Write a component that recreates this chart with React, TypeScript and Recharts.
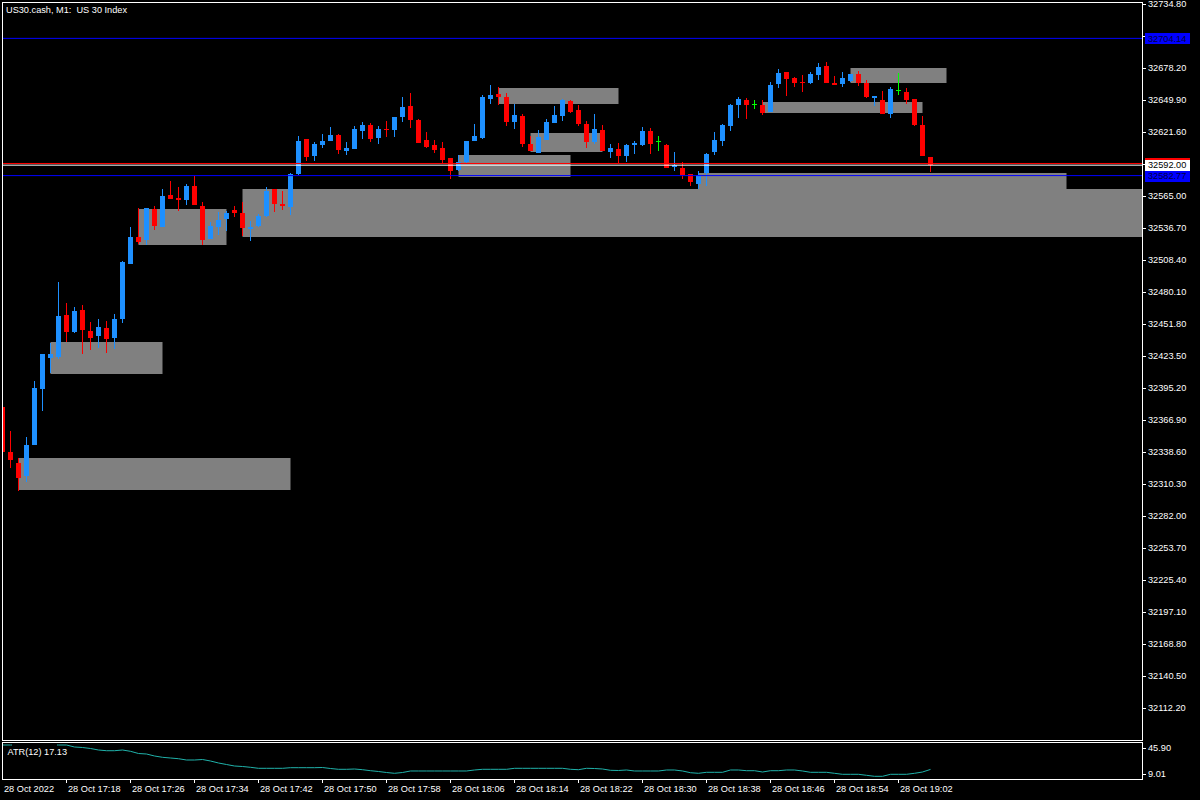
import React from 'react'
import {
  ComposedChart,
  Bar,
  XAxis,
  YAxis,
  ReferenceArea,
  ReferenceLine,
  LineChart,
  Line,
} from 'recharts'

const FONT = '"Liberation Sans", Arial, sans-serif'
const FG = '#ffffff'
const BULL = '#1e90ff'
const BEAR = '#ff0000'
const DOJI = '#00ff00'
const ZONE = '#808080'
const LEVEL = '#0000ff'
const ATR_COLOR = '#20b2aa'
const FS = 9.2

// US30.cash M1, bar 0 = 28 Oct 2022 17:10, last bar = 19:06
const opens = [
  32378.1, 32338.3, 32328.6, 32317.1, 32344.5, 32394.1, 32421.5, 32422.4, 32459.5, 32444.5,
  32463.9, 32445.3, 32440.9, 32448.0, 32439.2, 32456.0, 32504.6, 32528.5, 32525.8, 32553.2,
  32537.3, 32565.6, 32563.0, 32561.2, 32573.6, 32555.9, 32526.7, 32537.3, 32544.4, 32552.4,
  32549.7, 32535.5, 32538.2, 32547.0, 32570.9, 32557.7, 32555.0, 32584.2, 32615.1, 32600.1,
  32609.8, 32613.4, 32618.7, 32604.5, 32606.3, 32622.2, 32627.5, 32616.0, 32624.0, 32623.1,
  32634.6, 32644.3, 32631.9, 32614.3, 32609.8, 32607.2, 32598.3, 32587.7, 32594.8, 32613.4,
  32616.0, 32650.5, 32654.9, 32652.3, 32630.2, 32635.5, 32610.7, 32602.8, 32614.3, 32629.3,
  32635.5, 32648.8, 32640.8, 32628.4, 32612.5, 32623.1, 32603.6, 32606.3, 32600.1, 32609.8,
  32609.8, 32622.2, 32613.4, 32609.8, 32590.4, 32589.5, 32584.2, 32575.3, 32585.1, 32603.6,
  32613.4, 32626.6, 32645.2, 32649.6, 32646.1, 32645.2, 32639.0, 32663.8, 32674.4, 32669.1,
  32665.6, 32664.7, 32671.7, 32679.7, 32664.7, 32663.8, 32666.4, 32672.6, 32664.7, 32651.4,
  32649.6, 32637.3, 32658.5, 32656.7, 32650.5, 32627.5, 32599.2,
]
const highs = [
  32379.9, 32356.9, 32333.0, 32351.6, 32401.1, 32425.0, 32434.7, 32488.7, 32470.1, 32466.6,
  32468.3, 32453.3, 32456.0, 32454.2, 32460.4, 32507.3, 32537.3, 32554.1, 32554.1, 32555.9,
  32570.9, 32578.0, 32572.7, 32575.3, 32582.4, 32559.4, 32541.7, 32550.6, 32551.5, 32555.9,
  32559.4, 32542.6, 32548.8, 32572.7, 32570.9, 32569.2, 32585.1, 32617.8, 32615.1, 32612.5,
  32619.6, 32625.8, 32619.6, 32612.5, 32626.6, 32630.2, 32629.3, 32626.6, 32631.1, 32634.6,
  32652.3, 32655.8, 32632.8, 32621.3, 32614.3, 32612.5, 32598.3, 32601.0, 32613.4, 32628.4,
  32654.1, 32662.9, 32661.1, 32655.8, 32646.1, 32637.3, 32617.8, 32623.1, 32632.8, 32644.3,
  32650.5, 32649.6, 32645.2, 32631.1, 32637.3, 32627.5, 32610.7, 32611.6, 32610.7, 32613.4,
  32625.8, 32624.9, 32617.8, 32610.7, 32603.6, 32594.8, 32584.2, 32586.8, 32602.8, 32621.3,
  32628.4, 32646.1, 32652.3, 32651.4, 32649.6, 32649.6, 32665.6, 32677.1, 32674.4, 32670.0,
  32671.7, 32674.4, 32682.4, 32683.2, 32670.9, 32674.4, 32672.6, 32675.3, 32667.3, 32653.2,
  32657.6, 32661.1, 32673.5, 32660.2, 32650.5, 32635.5, 32599.2,
]
const lows = [
  32335.7, 32324.2, 32303.8, 32311.8, 32344.5, 32374.6, 32408.2, 32420.6, 32435.6, 32443.6,
  32425.0, 32428.5, 32430.3, 32425.9, 32429.4, 32452.4, 32504.6, 32522.3, 32521.4, 32534.7,
  32537.3, 32562.1, 32551.5, 32556.8, 32556.8, 32521.4, 32526.7, 32530.2, 32533.8, 32546.2,
  32529.4, 32524.9, 32537.3, 32546.2, 32550.6, 32552.4, 32547.9, 32583.3, 32595.7, 32595.7,
  32607.2, 32613.4, 32601.9, 32601.0, 32606.3, 32615.1, 32612.5, 32610.7, 32616.9, 32616.9,
  32630.2, 32624.9, 32611.6, 32607.2, 32602.8, 32593.9, 32579.8, 32586.8, 32593.9, 32613.4,
  32615.1, 32646.1, 32645.2, 32626.6, 32624.0, 32608.1, 32604.5, 32602.8, 32614.3, 32629.3,
  32631.1, 32638.1, 32626.6, 32607.2, 32610.7, 32604.5, 32598.3, 32593.9, 32594.8, 32601.9,
  32609.0, 32601.9, 32604.5, 32589.5, 32586.8, 32579.8, 32573.6, 32570.9, 32573.6, 32601.0,
  32609.0, 32622.2, 32633.7, 32632.8, 32641.7, 32636.4, 32639.0, 32660.2, 32653.2, 32661.1,
  32656.7, 32663.8, 32667.3, 32664.7, 32662.9, 32661.1, 32665.6, 32662.0, 32651.4, 32644.3,
  32637.3, 32633.7, 32654.1, 32646.1, 32626.6, 32600.1, 32586.0,
]
const closes = [
  32338.3, 32331.3, 32315.3, 32344.5, 32394.9, 32425.0, 32425.0, 32458.6, 32444.5, 32463.0,
  32446.2, 32439.2, 32448.9, 32438.3, 32456.0, 32506.4, 32528.5, 32524.1, 32554.1, 32538.2,
  32564.7, 32562.1, 32561.2, 32573.6, 32556.8, 32525.8, 32538.2, 32543.5, 32549.7, 32549.7,
  32536.4, 32537.3, 32547.0, 32569.2, 32557.7, 32555.9, 32584.2, 32613.4, 32599.2, 32610.7,
  32613.4, 32618.7, 32605.4, 32607.2, 32624.0, 32627.5, 32615.1, 32624.0, 32623.1, 32634.6,
  32643.4, 32631.9, 32611.6, 32608.1, 32605.4, 32596.6, 32586.8, 32594.8, 32613.4, 32617.8,
  32652.3, 32654.1, 32652.3, 32630.2, 32636.4, 32610.7, 32604.5, 32616.9, 32630.2, 32636.4,
  32649.6, 32639.0, 32628.4, 32612.5, 32624.0, 32604.5, 32607.2, 32600.1, 32609.8, 32611.6,
  32622.2, 32610.7, 32613.4, 32589.5, 32592.2, 32583.3, 32577.1, 32583.3, 32601.9, 32614.3,
  32627.5, 32645.2, 32650.5, 32645.2, 32646.1, 32638.1, 32662.9, 32673.5, 32668.2, 32664.7,
  32664.7, 32672.6, 32678.8, 32664.7, 32662.9, 32669.1, 32672.6, 32664.7, 32652.3, 32653.2,
  32637.3, 32659.4, 32658.5, 32649.6, 32627.5, 32600.1, 32592.0,
]

// ATR(12) per bar
const atr = [
  45.9, 45.9, 45.9, 45.9, 45.9, 45.9, 45.9, 45.9, 45.9, 43.54,
  42.95, 41.78, 40.01, 39.18, 39.18, 40.01, 38.48, 35.88, 35.29, 32.94,
  31.4, 30.58, 29.75, 28.22, 28.22, 28.81, 27.04, 24.69, 22.92, 21.15,
  20.56, 19.62, 18.44, 18.44, 18.44, 18.44, 19.15, 19.15, 19.15, 19.15,
  19.38, 18.2, 17.26, 17.26, 17.61, 16.79, 15.61, 14.67, 13.49, 12.55,
  13.49, 15.26, 15.26, 15.26, 15.26, 15.26, 15.26, 15.26, 15.26, 16.44,
  17.26, 17.26, 17.26, 17.26, 18.44, 18.44, 18.44, 18.44, 18.44, 18.44,
  18.44, 17.26, 16.79, 18.44, 18.2, 17.61, 16.08, 15.85, 16.44, 15.26,
  15.26, 15.26, 15.26, 16.44, 16.44, 15.26, 13.25, 12.55, 13.72, 13.72,
  13.72, 16.44, 16.44, 15.61, 15.61, 14.08, 15.61, 15.61, 16.44, 16.44,
  15.26, 13.72, 13.72, 13.72, 12.55, 11.37, 11.37, 11.37, 10.19, 9.01,
  9.01, 11.37, 11.37, 11.37, 12.55, 14.08, 17.13,
]

const timeTicks = [0, 8, 16, 24, 32, 40, 48, 56, 64, 72, 80, 88, 96, 104, 112]
const timeLabels = [
  '28 Oct 2022', '28 Oct 17:18', '28 Oct 17:26', '28 Oct 17:34', '28 Oct 17:42',
  '28 Oct 17:50', '28 Oct 17:58', '28 Oct 18:06', '28 Oct 18:14', '28 Oct 18:22',
  '28 Oct 18:30', '28 Oct 18:38', '28 Oct 18:46', '28 Oct 18:54', '28 Oct 19:02',
]
const priceTicks = [
  32734.8, 32706.5, 32678.2, 32649.9, 32621.6, 32593.3, 32565.0, 32536.7, 32508.4, 32480.1,
  32451.8, 32423.5, 32395.2, 32366.9, 32338.6, 32310.3, 32282.0, 32253.7, 32225.4, 32197.1,
  32168.8, 32140.5, 32112.2,
]
const atrTicks = [45.9, 9.01]

// supply / demand rectangles: bar index from..to, price top..bottom
const zoneFrom = [2, 6, 17, 30, 57, 62, 66, 87, 95, 106]
const zoneTo = [36, 20, 28, 150, 71, 77, 75, 133, 115, 118]
const zoneTop = [32333.0, 32435.6, 32553.2, 32570.9, 32601.0, 32660.2, 32620.4, 32585.1, 32647.8, 32677.9]
const zoneBottom = [32304.7, 32407.3, 32521.4, 32528.4, 32581.5, 32646.1, 32603.6, 32570.9, 32638.1, 32664.7]

const bid = 32592.0
const ask = 32593.5
const levels = [32704.14, 32582.77]

const X_DOMAIN: [number, number] = [0.0625, 142.4375]
const PRICE_DOMAIN: [number, number] = [32083.63, 32735.42]
const ATR_DOMAIN: [number, number] = [5.83, 48.26]

const candles = opens.map((open, i) => ({
  i,
  open,
  high: highs[i],
  low: lows[i],
  close: closes[i],
}))
const atrData = atr.map((v, i) => ({ i, atr: v }))

function Candle(props: any) {
  const { x, y, width, height, payload } = props
  if (x == null || !payload) return null
  const top = Math.min(y, y + height)
  const h = Math.abs(height)
  const range = payload.high - payload.low
  const k = range > 0 ? h / range : 0
  const cx = Math.floor(x + width / 2) + 0.5
  const yO = top + (payload.high - payload.open) * k
  const yC = top + (payload.high - payload.close) * k
  const color =
    payload.close > payload.open ? BULL : payload.close < payload.open ? BEAR : DOJI
  const bodyTop = Math.min(yO, yC)
  const bodyH = Math.max(1, Math.abs(yO - yC))
  return (
    <g shapeRendering="crispEdges">
      <rect x={cx - 0.5} y={top} width={1} height={Math.max(1, h)} fill={color} />
      <rect x={cx - 2.5} y={bodyTop} width={5} height={bodyH} fill={color} />
    </g>
  )
}

function PriceTick(props: any) {
  const { x, y, payload } = props
  const ly = Math.round(y) + 0.5
  return (
    <g>
      <line x1={x} x2={x + 4} y1={ly} y2={ly} stroke={FG} shapeRendering="crispEdges" />
      <text x={x + 6} y={y + 3.3} fill={FG} fontSize={FS} fontFamily={FONT}>
        {payload.value.toFixed(2)}
      </text>
    </g>
  )
}

function AtrTick(props: any) {
  const { x, y, payload } = props
  const shift = payload.value > 20 ? 3 : -2.3
  const ly = Math.round(y + shift) + 0.5
  return (
    <g>
      <line x1={x} x2={x + 4} y1={ly} y2={ly} stroke={FG} shapeRendering="crispEdges" />
      <text x={x + 6} y={y + shift + 3.3} fill={FG} fontSize={FS} fontFamily={FONT}>
        {payload.value.toFixed(2)}
      </text>
    </g>
  )
}

function TimeTick(props: any) {
  const { x, y, payload } = props
  const tx = Math.floor(x) + 0.5
  const idx = timeTicks.indexOf(payload.value)
  return (
    <g>
      {idx > 0 && (
        <line x1={tx} x2={tx} y1={y} y2={y + 4} stroke={FG} shapeRendering="crispEdges" />
      )}
      <text x={Math.max(3, tx + 1.5)} y={y + 13} fill={FG} fontSize={FS} fontFamily={FONT}>
        {timeLabels[idx]}
      </text>
    </g>
  )
}

function PriceTag(props: any) {
  const { viewBox, text, bg, fg } = props
  if (!viewBox) return null
  const x = viewBox.x + viewBox.width + 3
  const y = viewBox.y
  return (
    <g>
      <rect x={x} y={Math.round(y) - 5} width={45} height={11} fill={bg} shapeRendering="crispEdges" />
      <text x={x + 3} y={y + 3.3} fill={fg} fontSize={FS} fontFamily={FONT}>
        {text}
      </text>
    </g>
  )
}

export default function App() {
  return (
    <div
      style={{
        position: 'absolute',
        left: 0,
        top: 0,
        width: 1200,
        height: 800,
        background: '#000',
        overflow: 'hidden',
      }}
    >
      {/* main price panel: zones, candles, price scale */}
      <div style={{ position: 'absolute', left: 0, top: 0 }}>
        <ComposedChart
          width={1200}
          height={740}
          data={candles}
          margin={{ top: 3, right: 3, bottom: 0, left: 3 }}
        >
          <XAxis dataKey="i" type="number" domain={X_DOMAIN} allowDataOverflow hide />
          <YAxis
            orientation="right"
            type="number"
            domain={PRICE_DOMAIN}
            allowDataOverflow
            ticks={priceTicks}
            interval={0}
            width={55}
            axisLine={false}
            tickLine={false}
            tickSize={0}
            tickMargin={0}
            tick={<PriceTick />}
          />
          {zoneFrom.map((from, k) => (
            <ReferenceArea
              key={k}
              x1={from}
              x2={zoneTo[k]}
              y1={zoneBottom[k]}
              y2={zoneTop[k]}
              fill={ZONE}
              fillOpacity={1}
              stroke="none"
              ifOverflow="hidden"
            />
          ))}
          <Bar
            dataKey={(d: any) => [d.low, d.high]}
            barSize={5}
            shape={(p: any) => <Candle {...p} />}
            isAnimationActive={false}
          />
        </ComposedChart>
      </div>

      {/* price levels + their tags, drawn above the price scale */}
      <div style={{ position: 'absolute', left: 0, top: 0 }}>
        <ComposedChart
          width={1200}
          height={740}
          data={candles}
          margin={{ top: 3, right: 58, bottom: 0, left: 3 }}
        >
          <XAxis dataKey="i" type="number" domain={X_DOMAIN} allowDataOverflow hide />
          <YAxis type="number" domain={PRICE_DOMAIN} allowDataOverflow hide />
          <ReferenceLine
            y={levels[0]}
            stroke={LEVEL}
            label={<PriceTag text={levels[0].toFixed(2)} bg={LEVEL} fg="#000040" />}
          />
          <ReferenceLine
            y={ask}
            stroke={BEAR}
            label={<PriceTag text={ask.toFixed(2)} bg={BEAR} fg={FG} />}
          />
          <ReferenceLine
            y={bid}
            stroke={FG}
            label={<PriceTag text={bid.toFixed(2)} bg={FG} fg="#000" />}
          />
          <ReferenceLine
            y={levels[1]}
            stroke={LEVEL}
            label={<PriceTag text={levels[1].toFixed(2)} bg={LEVEL} fg="#000040" />}
          />
        </ComposedChart>
      </div>

      {/* ATR sub-window with time axis */}
      <div style={{ position: 'absolute', left: 0, top: 743 }}>
        <LineChart
          width={1200}
          height={57}
          data={atrData}
          margin={{ top: 0, right: 3, bottom: 0, left: 3 }}
        >
          <XAxis
            dataKey="i"
            type="number"
            domain={X_DOMAIN}
            allowDataOverflow
            ticks={timeTicks}
            interval={0}
            height={21}
            axisLine={false}
            tickLine={false}
            tickSize={0}
            tickMargin={0}
            tick={<TimeTick />}
          />
          <YAxis
            orientation="right"
            type="number"
            domain={ATR_DOMAIN}
            allowDataOverflow
            ticks={atrTicks}
            interval={0}
            width={55}
            axisLine={false}
            tickLine={false}
            tickSize={0}
            tickMargin={0}
            tick={<AtrTick />}
          />
          <Line
            type="linear"
            dataKey="atr"
            stroke={ATR_COLOR}
            strokeWidth={1}
            dot={false}
            isAnimationActive={false}
          />
        </LineChart>
      </div>

      {/* frames and window labels */}
      <svg
        width={1200}
        height={800}
        style={{ position: 'absolute', left: 0, top: 0, pointerEvents: 'none' }}
      >
        <rect x={2.5} y={2.5} width={1140} height={738} fill="none" stroke={FG} shapeRendering="crispEdges" />
        <rect x={2.5} y={742.5} width={1140} height={37} fill="none" stroke={FG} shapeRendering="crispEdges" />
        <text x={6} y={13} fill={FG} fontSize={FS} fontFamily={FONT} style={{ whiteSpace: 'pre' }}>
          US30.cash, M1:  US 30 Index
        </text>
        <rect x={12} y={744} width={45} height={13} fill="#000" />
        <text x={7.5} y={754.5} fill={FG} fontSize={FS} fontFamily={FONT}>
          ATR(12) 17.13
        </text>
      </svg>
    </div>
  )
}
